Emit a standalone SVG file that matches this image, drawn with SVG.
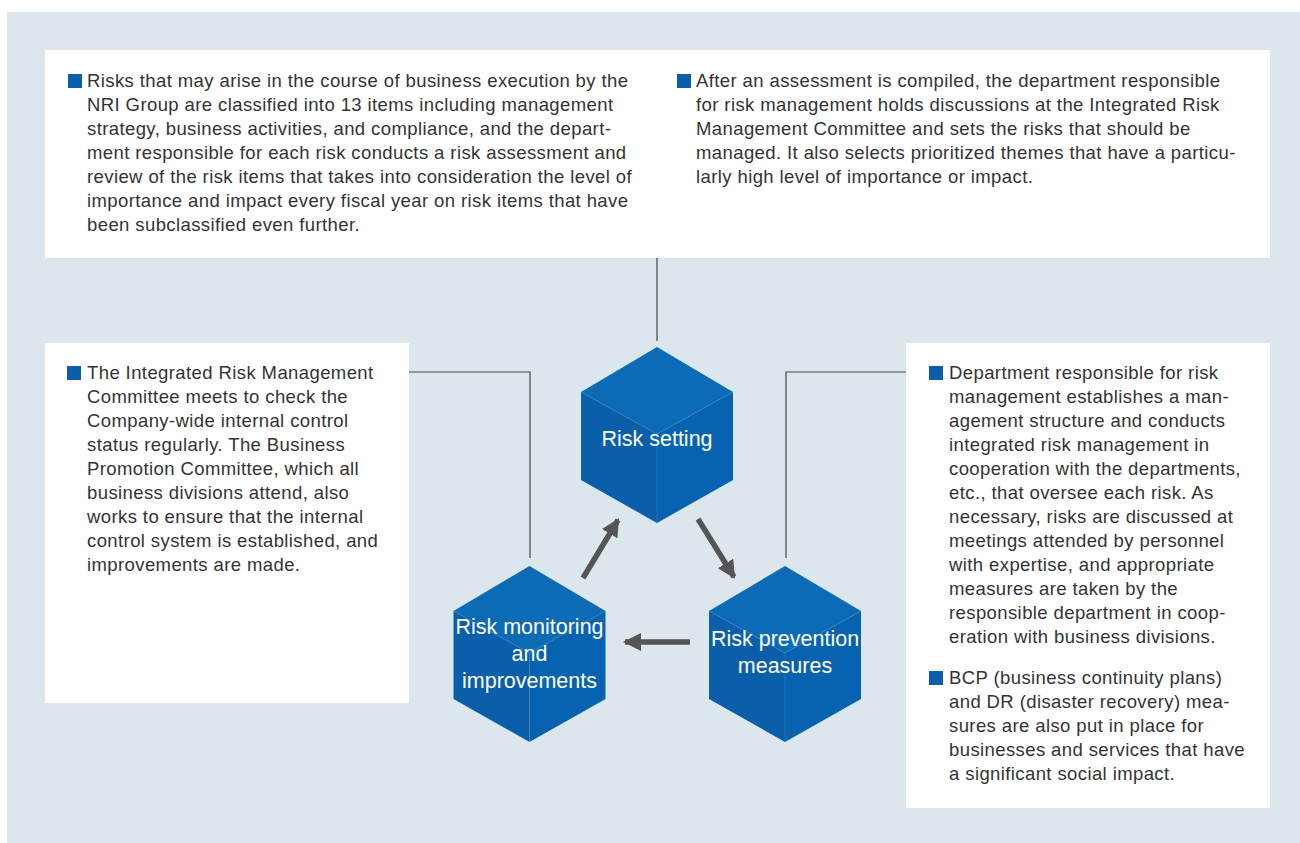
<svg xmlns="http://www.w3.org/2000/svg" width="1300" height="843" viewBox="0 0 1300 843">
<defs>
<style>
.box{fill:#ffffff}
.t{font-family:"Liberation Sans",Arial,sans-serif;font-size:18.5px;letter-spacing:0.4px;fill:#333333}
.ct{font-family:"Liberation Sans",Arial,sans-serif;font-size:21.5px;fill:#ffffff;text-anchor:middle}
.bul{fill:#0a5fad}
.conn{fill:none;stroke:#444444;stroke-width:1.2}
.arr{fill:none;stroke:#555555;stroke-width:5.5}
.top{fill:#0d6bb5}
.lf{fill:#0a5eaa}
.rf{fill:#0763b0}
.edge{stroke:#3a86c6;stroke-width:0.8;fill:none;opacity:0.6}
</style>
<marker id="ah" markerUnits="userSpaceOnUse" markerWidth="18" markerHeight="18" viewBox="0 0 18 18" refX="16" refY="9" orient="auto">
<path d="M0,0 L18,9 L0,18 Z" fill="#555555"/>
</marker>
<symbol id="cube" overflow="visible">
<polygon class="top" points="0,0 76,45 0,87 -76,45"/>
<polygon class="lf" points="-76,45 0,87 0,176 -76,133"/>
<polygon class="rf" points="76,45 0,87 0,176 76,133"/>
<path class="edge" d="M-76,45 L0,87 L76,45 M0,87 L0,176"/>
</symbol>
</defs>
<rect x="7" y="12" width="1293" height="831" fill="#dce6ed"/>

<g id="connectors">
<line class="conn" x1="657" y1="258" x2="657" y2="341"/>
<polyline class="conn" points="409,372 530,372 530,558"/>
<polyline class="conn" points="906,372 786,372 786,558"/>
<line class="arr" x1="583" y1="578" x2="618" y2="520" marker-end="url(#ah)"/>
<line class="arr" x1="698" y1="519" x2="734" y2="577" marker-end="url(#ah)"/>
<line class="arr" x1="690" y1="642" x2="625" y2="642" marker-end="url(#ah)"/>
</g>

<g id="box-top">
<rect class="box" x="45" y="50" width="1225" height="208"/>
<rect class="bul" x="68" y="74" width="14" height="14"/>
<text class="t" x="87" y="87">Risks that may arise in the course of business execution by the</text>
<text class="t" x="87" y="111">NRI Group are classified into 13 items including management</text>
<text class="t" x="87" y="135">strategy, business activities, and compliance, and the depart-</text>
<text class="t" x="87" y="159">ment responsible for each risk conducts a risk assessment and</text>
<text class="t" x="87" y="183">review of the risk items that takes into consideration the level of</text>
<text class="t" x="87" y="207">importance and impact every fiscal year on risk items that have</text>
<text class="t" x="87" y="231">been subclassified even further.</text>
<rect class="bul" x="677" y="74" width="14" height="14"/>
<text class="t" x="696" y="87">After an assessment is compiled, the department responsible</text>
<text class="t" x="696" y="111">for risk management holds discussions at the Integrated Risk</text>
<text class="t" x="696" y="135">Management Committee and sets the risks that should be</text>
<text class="t" x="696" y="159">managed. It also selects prioritized themes that have a particu-</text>
<text class="t" x="696" y="183">larly high level of importance or impact.</text>
</g>

<g id="box-left">
<rect class="box" x="45" y="343" width="364" height="360"/>
<rect class="bul" x="67" y="366" width="14" height="14"/>
<text class="t" x="87" y="379">The Integrated Risk Management</text>
<text class="t" x="87" y="403">Committee meets to check the</text>
<text class="t" x="87" y="427">Company-wide internal control</text>
<text class="t" x="87" y="451">status regularly. The Business</text>
<text class="t" x="87" y="475">Promotion Committee, which all</text>
<text class="t" x="87" y="499">business divisions attend, also</text>
<text class="t" x="87" y="523">works to ensure that the internal</text>
<text class="t" x="87" y="547">control system is established, and</text>
<text class="t" x="87" y="571">improvements are made.</text>
</g>

<g id="box-right">
<rect class="box" x="906" y="343" width="364" height="465"/>
<rect class="bul" x="929" y="366" width="14" height="14"/>
<text class="t" x="949" y="379">Department responsible for risk</text>
<text class="t" x="949" y="403">management establishes a man-</text>
<text class="t" x="949" y="427">agement structure and conducts</text>
<text class="t" x="949" y="451">integrated risk management in</text>
<text class="t" x="949" y="475">cooperation with the departments,</text>
<text class="t" x="949" y="499">etc., that oversee each risk. As</text>
<text class="t" x="949" y="523">necessary, risks are discussed at</text>
<text class="t" x="949" y="547">meetings attended by personnel</text>
<text class="t" x="949" y="571">with expertise, and appropriate</text>
<text class="t" x="949" y="595">measures are taken by the</text>
<text class="t" x="949" y="619">responsible department in coop-</text>
<text class="t" x="949" y="643">eration with business divisions.</text>
<rect class="bul" x="929" y="671" width="14" height="14"/>
<text class="t" x="949" y="684">BCP (business continuity plans)</text>
<text class="t" x="949" y="708">and DR (disaster recovery) mea-</text>
<text class="t" x="949" y="732">sures are also put in place for</text>
<text class="t" x="949" y="756">businesses and services that have</text>
<text class="t" x="949" y="780">a significant social impact.</text>
</g>

<g id="cube-setting">
<use href="#cube" x="657" y="347"/>
<text class="ct" x="657" y="446">Risk setting</text>
</g>

<g id="cube-monitoring">
<use href="#cube" x="529.5" y="566"/>
<text class="ct" x="529.5" y="634">Risk monitoring</text>
<text class="ct" x="529.5" y="661">and</text>
<text class="ct" x="529.5" y="688">improvements</text>
</g>

<g id="cube-prevention">
<use href="#cube" x="785" y="566"/>
<text class="ct" x="785" y="646">Risk prevention</text>
<text class="ct" x="785" y="673">measures</text>
</g>
</svg>
